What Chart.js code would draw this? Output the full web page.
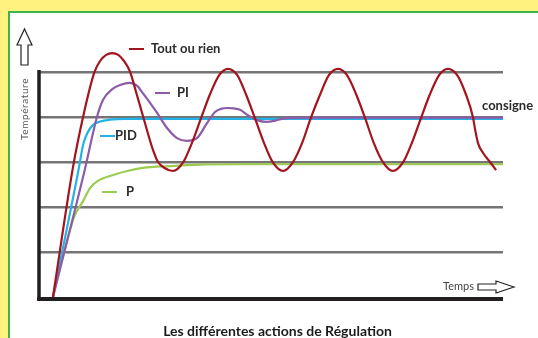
<!DOCTYPE html>
<html lang="fr">
<head>
<meta charset="utf-8">
<title>Les différentes actions de Régulation</title>
<script src="https://cdn.jsdelivr.net/npm/chart.js@4"></script>
<style>
  html, body { margin: 0; padding: 0; background: #fff27f; }
  #wrap { width: 538px; height: 338px; }
</style>
</head>
<body>
<div id="wrap"><canvas id="c" width="538" height="338"></canvas></div>
<script>
// Temps (unités arbitraires) et température (une graduation = 1)
const toutOuRienT = [2.8, 7.1, 9.3, 11.7, 13.0, 14.3, 15.6, 16.9, 18.1, 19.4, 20.9, 22.3, 24.4, 25.5, 27.0, 28.7,
  30.9, 32.8, 34.8, 36.7, 38.7, 40.6, 42.6, 44.5, 46.4, 48.4, 50.3, 52.5,
  54.6, 56.6, 58.5, 60.5, 62.4, 64.4, 66.3, 68.3, 70.2, 72.1, 74.1, 76.2,
  78.4, 80.3, 82.3, 84.2, 86.2, 88.1, 90.1, 92.0, 93.5, 94.0, 94.6, 95.7, 97.2, 98.5];
const toutOuRienV = [0, 2.87, 4.0, 4.98, 5.25, 5.38, 5.42, 5.38, 5.25, 5.02, 4.5, 4.0, 3.27, 3.0, 2.86, 2.8,
  2.99, 3.42, 3.98, 4.5, 4.93, 5.07, 4.93, 4.5, 3.98, 3.42, 2.99, 2.8,
  2.99, 3.42, 3.98, 4.5, 4.93, 5.07, 4.93, 4.5, 3.98, 3.42, 2.99, 2.8,
  2.99, 3.42, 3.98, 4.5, 4.93, 5.07, 4.93, 4.5, 4.0, 3.71, 3.42, 3.2, 3.0, 2.82];

const piT = [2.8, 9.7, 12.3, 13.6, 15.6, 17.3, 19.4, 21.0, 22.2, 23.8, 25.3, 27.4, 29.6, 31.7, 33.9, 36.1,
  37.8, 39.1, 40.4, 41.9, 43.2, 44.9, 46.9, 49.0, 50.8, 52.3, 54.4, 58.3, 100];
const piV = [0, 2.84, 4.0, 4.38, 4.62, 4.71, 4.76, 4.69, 4.53, 4.31, 4.09, 3.76, 3.53, 3.47, 3.53, 3.87,
  4.11, 4.18, 4.2, 4.19, 4.16, 4.04, 3.93, 3.89, 3.92, 3.96, 3.98, 3.985, 3.985];

const pidT = [2.8, 8.4, 9.3, 10.2, 11.4, 13.0, 15.1, 18.4, 21.6, 100];
const pidV = [0, 2.87, 3.38, 3.64, 3.82, 3.9, 3.94, 3.96, 3.96, 3.96];

const pT = [2.8, 7.3, 9.3, 10.8, 12.5, 15.8, 18.8, 22.2, 28.1, 34.6, 43.2, 100];
const pV = [0, 1.76, 2.13, 2.42, 2.58, 2.71, 2.8, 2.87, 2.91, 2.94, 2.95, 2.95];

const niveaux = [1, 2, 3, 4, 5];          // lignes horizontales de repère

const pts = (xs, ys) => xs.map((x, i) => ({ x, y: ys[i] }));

const COL = {
  tor: '#a3141f',
  pi: '#8d5ca8',
  pid: '#22b2e6',
  p: '#9ccb52',
  grid: '#757575',
  axis: '#231f20',
  text: '#2b2b2b'
};
const FONT = 'Lato, "Open Sans", sans-serif';

// Fond jaune, cadre blanc bordé de vert, axes et flèches
const cadre = {
  id: 'cadre',
  beforeDraw(chart) {
    const ctx = chart.ctx;
    ctx.save();
    ctx.fillStyle = '#fff27f';
    ctx.fillRect(0, 0, chart.width, chart.height);
    ctx.fillStyle = '#ffffff';
    ctx.fillRect(9, 12, chart.width - 9, chart.height - 12);
    ctx.strokeStyle = '#3cb44b';
    ctx.lineWidth = 2;
    ctx.beginPath();
    ctx.moveTo(9, chart.height);
    ctx.lineTo(9, 12);
    ctx.lineTo(chart.width, 12);
    ctx.stroke();
    ctx.restore();
  },
  beforeDatasetsDraw(chart) {
    const { ctx, scales: { x, y } } = chart;
    const x0 = x.getPixelForValue(0), x1 = x.getPixelForValue(100);
    const y0 = y.getPixelForValue(0), yTop = y.getPixelForValue(5);
    ctx.save();
    ctx.strokeStyle = COL.axis;
    ctx.lineCap = 'butt';
    ctx.lineWidth = 3.5;
    ctx.beginPath();
    ctx.moveTo(x0 - 1, yTop - 2);
    ctx.lineTo(x0 - 1, y0 + 4);
    ctx.stroke();
    ctx.lineWidth = 4;
    ctx.beginPath();
    ctx.moveTo(x0 - 3, y0 + 2);
    ctx.lineTo(x1, y0 + 2);
    ctx.stroke();
    ctx.restore();
  },
  afterDraw(chart) {
    const ctx = chart.ctx;
    ctx.save();
    // flèche verticale (température)
    ctx.strokeStyle = '#222';
    ctx.fillStyle = '#fff';
    ctx.lineWidth = 1.2;
    ctx.lineJoin = 'miter';
    ctx.beginPath();
    ctx.moveTo(24.5, 29);
    ctx.lineTo(32, 45);
    ctx.lineTo(28, 45);
    ctx.lineTo(28, 65);
    ctx.lineTo(21, 65);
    ctx.lineTo(21, 45);
    ctx.lineTo(17, 45);
    ctx.closePath();
    ctx.fill();
    ctx.stroke();
    // flèche horizontale (temps)
    ctx.beginPath();
    ctx.moveTo(514, 287);
    ctx.lineTo(496, 281);
    ctx.lineTo(496, 284);
    ctx.lineTo(478, 284);
    ctx.lineTo(478, 290);
    ctx.lineTo(496, 290);
    ctx.lineTo(496, 293);
    ctx.closePath();
    ctx.fill();
    ctx.stroke();

    // repères de légende
    const legende = [
      { c: COL.tor, x0: 129, x1: 144, y: 49, t: 'Tout ou rien', tx: 151 },
      { c: COL.pi, x0: 155, x1: 170, y: 93, t: 'PI', tx: 177 },
      { c: COL.pid, x0: 100, x1: 115, y: 136, t: 'PID', tx: 115 },
      { c: COL.p, x0: 102, x1: 117, y: 192, t: 'P', tx: 126 }
    ];
    ctx.textBaseline = 'middle';
    ctx.textAlign = 'left';
    legende.forEach(l => {
      ctx.strokeStyle = l.c;
      ctx.lineWidth = 2;
      ctx.beginPath();
      ctx.moveTo(l.x0, l.y);
      ctx.lineTo(l.x1, l.y);
      ctx.stroke();
      ctx.fillStyle = COL.text;
      ctx.font = 'bold 13px ' + FONT;
      ctx.fillText(l.t, l.tx, l.y);
    });

    ctx.fillStyle = COL.text;
    ctx.font = 'bold 13px ' + FONT;
    ctx.fillText('consigne', 482, 106);

    ctx.fillStyle = '#444';
    ctx.font = '11px ' + FONT;
    ctx.fillText('Temps', 443, 286);

    // titre de l'axe vertical
    ctx.save();
    ctx.translate(25, 109);
    ctx.rotate(-Math.PI / 2);
    ctx.textAlign = 'center';
    ctx.fillStyle = '#555';
    ctx.font = '10px ' + FONT;
    ctx.letterSpacing = '0.6px';
    ctx.fillText('Température', 0, 0);
    ctx.restore();

    // titre
    ctx.textAlign = 'center';
    ctx.fillStyle = '#1c1c1c';
    ctx.font = 'bold 14px ' + FONT;
    ctx.fillText('Les différentes actions de Régulation', 277.5, 331);
    ctx.restore();
  }
};

const serie = (label, data, color) => ({
  label, data,
  borderColor: color,
  borderWidth: 2.2,
  pointRadius: 0,
  fill: false,
  cubicInterpolationMode: 'monotone'
});

new Chart(document.getElementById('c'), {
  type: 'line',
  data: {
    datasets: [
      serie('Tout ou rien', pts(toutOuRienT, toutOuRienV), COL.tor),
      serie('PI', pts(piT, piV), COL.pi),
      serie('PID', pts(pidT, pidV), COL.pid),
      serie('P', pts(pT, pV), COL.p)
    ]
  },
  options: {
    responsive: false,
    animation: false,
    devicePixelRatio: 1,
    layout: { padding: { left: 40, right: 35, top: 27, bottom: 41 } },
    plugins: { legend: { display: false }, tooltip: { enabled: false } },
    scales: {
      x: { type: 'linear', min: 0, max: 100, display: false },
      y: {
        min: 0, max: 6,
        ticks: { display: false, stepSize: 1 },
        border: { display: false },
        grid: {
          drawTicks: false,
          lineWidth: 2.5,
          color: c => niveaux.includes(c.tick && c.tick.value) ? COL.grid : 'rgba(0,0,0,0)'
        }
      }
    }
  },
  plugins: [cadre]
});
</script>
</body>
</html>
